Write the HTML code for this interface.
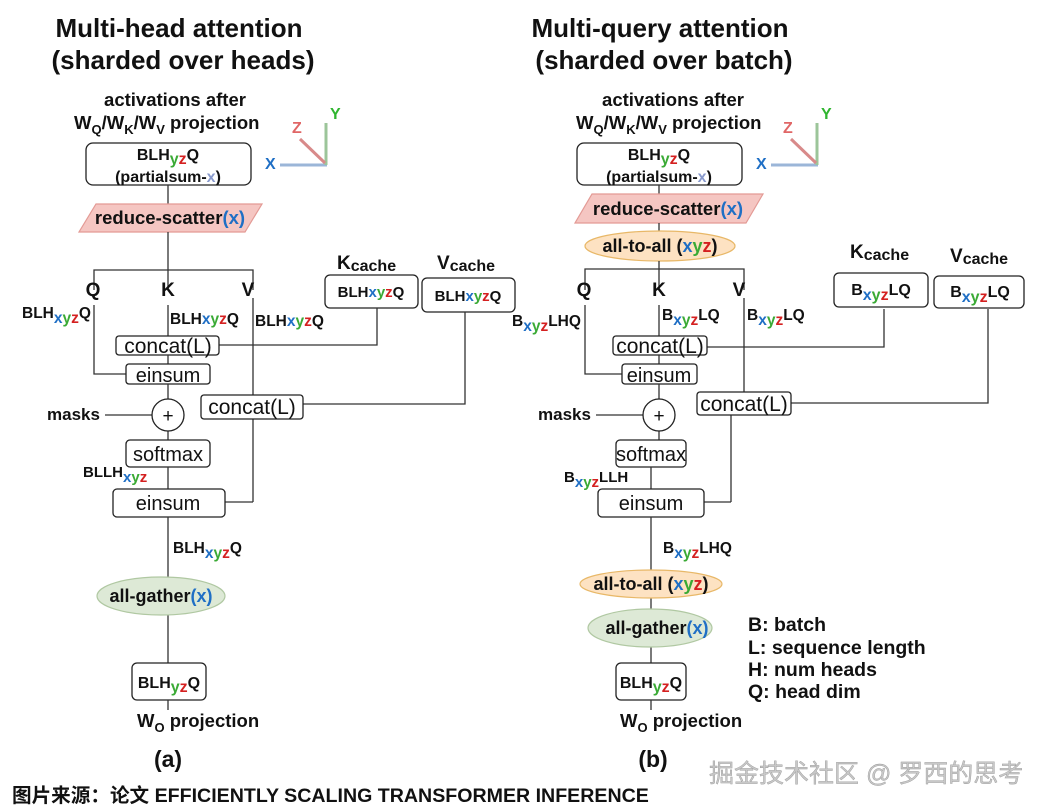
<!DOCTYPE html>
<html><head><meta charset="utf-8"><style>
html,body{margin:0;padding:0;background:#fff;}
svg{display:block;}
text{font-family:"Liberation Sans","Noto Sans CJK SC",sans-serif;fill:#111;}
.b{font-weight:bold;}
.x{fill:#1f6fc5}.y{fill:#3aaa35}.z{fill:#d42020}
.ln{stroke:#333;stroke-width:1.3;fill:none}
.bx{stroke:#222;stroke-width:1.3;fill:#fff}
</style></head><body>
<svg width="1053" height="811" viewBox="0 0 1053 811" xmlns="http://www.w3.org/2000/svg">
<text x="179" y="37" class="b" font-size="26" text-anchor="middle">Multi-head attention</text>
<text x="183" y="69" class="b" font-size="26" text-anchor="middle">(sharded over heads)</text>
<text x="660" y="37" class="b" font-size="26" text-anchor="middle">Multi-query attention</text>
<text x="664" y="69" class="b" font-size="26" text-anchor="middle">(sharded over batch)</text>

<g>
<text x="175" y="106" class="b" font-size="18.5" text-anchor="middle">activations after</text>
<text x="74" y="129" class="b" font-size="18.5">W<tspan font-size="13" dy="5">Q</tspan><tspan dy="-5">/W</tspan><tspan font-size="13" dy="5">K</tspan><tspan dy="-5">/W</tspan><tspan font-size="13" dy="5">V</tspan><tspan dy="-5"> projection</tspan></text>
<rect class="bx" x="86" y="143" width="165" height="42" rx="7"/>
<text x="168" y="160" class="b" font-size="16" text-anchor="middle">BLH<tspan class="y" dy="4">y</tspan><tspan class="z">z</tspan><tspan dy="-4">Q</tspan></text>
<text x="168" y="182" class="b" font-size="16" text-anchor="middle">(partialsum-<tspan fill="#8899cc">x</tspan>)</text>
<line x1="280" y1="165" x2="327" y2="165" stroke="#9bb6d8" stroke-width="3"/>
<line x1="326" y1="123" x2="326" y2="165" stroke="#9cc59a" stroke-width="3"/>
<line x1="300" y1="139" x2="325" y2="163" stroke="#d88a8a" stroke-width="3"/>
<text x="265" y="169" class="b x" font-size="16">X</text>
<text x="292" y="133" class="b" font-size="16" style="fill:#e06666">Z</text>
<text x="330" y="119" class="b" font-size="16" style="fill:#2fb52f">Y</text>
<line class="ln" x1="168" y1="185" x2="168" y2="204"/>
<polygon points="96,204 262,204 245,232 79,232" fill="#f5c6c2" stroke="#e39a95" stroke-width="1.2"/>
<text x="170" y="224" class="b" font-size="18.5" text-anchor="middle">reduce-scatter<tspan class="x">(x)</tspan></text>
<line class="ln" x1="168" y1="232" x2="168" y2="290"/>
<polyline class="ln" points="94,290 94,270 253,270 253,290"/>
<text x="93" y="296" class="b" font-size="19" text-anchor="middle">Q</text>
<text x="168" y="296" class="b" font-size="19" text-anchor="middle">K</text>
<text x="248" y="296" class="b" font-size="19" text-anchor="middle">V</text>
<text x="22" y="318" class="b" font-size="15.5">BLH<tspan class="x" dy="5">x</tspan><tspan class="y">y</tspan><tspan class="z">z</tspan><tspan dy="-5">Q</tspan></text>
<text x="170" y="324" class="b" font-size="15.5">BLH<tspan class="x">x</tspan><tspan class="y">y</tspan><tspan class="z">z</tspan>Q</text>
<text x="255" y="326" class="b" font-size="15.5">BLH<tspan class="x">x</tspan><tspan class="y">y</tspan><tspan class="z">z</tspan>Q</text>
<polyline class="ln" points="94,305 94,374 126,374"/>
<line class="ln" x1="168" y1="305" x2="168" y2="336"/>
<line class="ln" x1="253" y1="298" x2="253" y2="502"/>
<polyline class="ln" points="225,502 253,502"/>
<text x="337" y="269" class="b" font-size="19">K<tspan font-size="16" dy="2">cache</tspan></text>
<rect class="bx" x="325" y="275" width="93" height="33" rx="5"/>
<text x="371" y="297" class="b" font-size="15" text-anchor="middle">BLH<tspan class="x">x</tspan><tspan class="y">y</tspan><tspan class="z">z</tspan>Q</text>
<text x="437" y="269" class="b" font-size="19">V<tspan font-size="16" dy="2">cache</tspan></text>
<rect class="bx" x="422" y="278" width="93" height="34" rx="5"/>
<text x="468" y="301" class="b" font-size="15" text-anchor="middle">BLH<tspan class="x">x</tspan><tspan class="y">y</tspan><tspan class="z">z</tspan>Q</text>
<polyline class="ln" points="219,345 377,345 377,308"/>
<polyline class="ln" points="303,404 465,404 465,312"/>
<rect class="bx" x="116" y="336" width="103" height="19" rx="3"/>
<text x="168" y="353" font-size="21" text-anchor="middle">concat(L)</text>
<line class="ln" x1="168" y1="355" x2="168" y2="364"/>
<rect class="bx" x="126" y="364" width="84" height="20" rx="3"/>
<text x="168" y="382" font-size="20" text-anchor="middle">einsum</text>
<line class="ln" x1="168" y1="384" x2="168" y2="440"/>
<rect class="bx" x="201" y="395" width="102" height="24" rx="3"/>
<text x="252" y="414" font-size="21" text-anchor="middle">concat(L)</text>
<line class="ln" x1="105" y1="415" x2="152" y2="415"/>
<circle cx="168" cy="415" r="16" class="bx"/>
<text x="168" y="422" font-size="19" text-anchor="middle">+</text>
<text x="47" y="420" class="b" font-size="17">masks</text>
<rect class="bx" x="126" y="440" width="84" height="27" rx="4"/>
<text x="168" y="461" font-size="20" text-anchor="middle">softmax</text>
<line class="ln" x1="168" y1="467" x2="168" y2="489"/>
<text x="83" y="477" class="b" font-size="15">BLLH<tspan class="x" dy="5">x</tspan><tspan class="y">y</tspan><tspan class="z">z</tspan></text>
<rect class="bx" x="113" y="489" width="112" height="28" rx="4"/>
<text x="168" y="510" font-size="20" text-anchor="middle">einsum</text>
<line class="ln" x1="168" y1="517" x2="168" y2="663"/>
<text x="173" y="553" class="b" font-size="15.5">BLH<tspan class="x" dy="5">x</tspan><tspan class="y">y</tspan><tspan class="z">z</tspan><tspan dy="-5">Q</tspan></text>
<ellipse cx="161" cy="596" rx="64" ry="19" fill="#dde9d6" stroke="#b0c8a2" stroke-width="1.2"/>
<text x="161" y="602" class="b" font-size="18" text-anchor="middle">all-gather<tspan class="x">(x)</tspan></text>
<rect class="bx" x="132" y="663" width="74" height="37" rx="5"/>
<text x="169" y="688" class="b" font-size="16" text-anchor="middle">BLH<tspan class="y" dy="4">y</tspan><tspan class="z">z</tspan><tspan dy="-4">Q</tspan></text>
<line class="ln" x1="168" y1="700" x2="168" y2="710"/>
<text x="137" y="727" class="b" font-size="18.5">W<tspan font-size="13" dy="5">O</tspan><tspan dy="-5"> projection</tspan></text>
<text x="168" y="767" class="b" font-size="23" text-anchor="middle">(a)</text>
</g>

<g>
<text x="673" y="106" class="b" font-size="18.5" text-anchor="middle">activations after</text>
<text x="576" y="129" class="b" font-size="18.5">W<tspan font-size="13" dy="5">Q</tspan><tspan dy="-5">/W</tspan><tspan font-size="13" dy="5">K</tspan><tspan dy="-5">/W</tspan><tspan font-size="13" dy="5">V</tspan><tspan dy="-5"> projection</tspan></text>
<rect class="bx" x="577" y="143" width="165" height="42" rx="7"/>
<text x="659" y="160" class="b" font-size="16" text-anchor="middle">BLH<tspan class="y" dy="4">y</tspan><tspan class="z">z</tspan><tspan dy="-4">Q</tspan></text>
<text x="659" y="182" class="b" font-size="16" text-anchor="middle">(partialsum-<tspan fill="#8899cc">x</tspan>)</text>
<line x1="771" y1="165" x2="818" y2="165" stroke="#9bb6d8" stroke-width="3"/>
<line x1="817" y1="123" x2="817" y2="165" stroke="#9cc59a" stroke-width="3"/>
<line x1="791" y1="139" x2="816" y2="163" stroke="#d88a8a" stroke-width="3"/>
<text x="756" y="169" class="b x" font-size="16">X</text>
<text x="783" y="133" class="b" font-size="16" style="fill:#e06666">Z</text>
<text x="821" y="119" class="b" font-size="16" style="fill:#2fb52f">Y</text>
<line class="ln" x1="659" y1="185" x2="659" y2="194"/>
<polygon points="592,194 763,194 746,223 575,223" fill="#f5c6c2" stroke="#e39a95" stroke-width="1.2"/>
<text x="668" y="215" class="b" font-size="18.5" text-anchor="middle">reduce-scatter<tspan class="x">(x)</tspan></text>
<line class="ln" x1="659" y1="223" x2="659" y2="231"/>
<ellipse cx="660" cy="246" rx="75" ry="15" fill="#fde2c2" stroke="#e8b868" stroke-width="1.2"/>
<text x="660" y="252" class="b" font-size="18" text-anchor="middle">all-to-all (<tspan class="x">x</tspan><tspan class="y">y</tspan><tspan class="z">z</tspan>)</text>
<line class="ln" x1="659" y1="261" x2="659" y2="290"/>
<polyline class="ln" points="585,290 585,269 744,269 744,290"/>
<text x="584" y="296" class="b" font-size="19" text-anchor="middle">Q</text>
<text x="659" y="296" class="b" font-size="19" text-anchor="middle">K</text>
<text x="739" y="296" class="b" font-size="19" text-anchor="middle">V</text>
<text x="512" y="326" class="b" font-size="15.5">B<tspan class="x" dy="5">x</tspan><tspan class="y">y</tspan><tspan class="z">z</tspan><tspan dy="-5">LHQ</tspan></text>
<text x="662" y="320" class="b" font-size="15.5">B<tspan class="x" dy="5">x</tspan><tspan class="y">y</tspan><tspan class="z">z</tspan><tspan dy="-5">LQ</tspan></text>
<text x="747" y="320" class="b" font-size="15.5">B<tspan class="x" dy="5">x</tspan><tspan class="y">y</tspan><tspan class="z">z</tspan><tspan dy="-5">LQ</tspan></text>
<polyline class="ln" points="585,305 585,374 622,374"/>
<line class="ln" x1="659" y1="305" x2="659" y2="336"/>
<line class="ln" x1="744" y1="298" x2="744" y2="392"/>
<line class="ln" x1="731" y1="415" x2="731" y2="502"/>
<polyline class="ln" points="704,502 731,502"/>
<text x="850" y="258" class="b" font-size="19">K<tspan font-size="16" dy="2">cache</tspan></text>
<rect class="bx" x="834" y="273" width="94" height="34" rx="5"/>
<text x="881" y="295" class="b" font-size="16" text-anchor="middle">B<tspan class="x" dy="5">x</tspan><tspan class="y">y</tspan><tspan class="z">z</tspan><tspan dy="-5">LQ</tspan></text>
<text x="950" y="262" class="b" font-size="19">V<tspan font-size="16" dy="2">cache</tspan></text>
<rect class="bx" x="934" y="276" width="90" height="32" rx="5"/>
<text x="980" y="297" class="b" font-size="16" text-anchor="middle">B<tspan class="x" dy="5">x</tspan><tspan class="y">y</tspan><tspan class="z">z</tspan><tspan dy="-5">LQ</tspan></text>
<polyline class="ln" points="707,347 884,347 884,309"/>
<polyline class="ln" points="791,403 988,403 988,309"/>
<rect class="bx" x="613" y="336" width="94" height="19" rx="3"/>
<text x="660" y="353" font-size="21" text-anchor="middle">concat(L)</text>
<line class="ln" x1="659" y1="355" x2="659" y2="364"/>
<rect class="bx" x="622" y="364" width="75" height="20" rx="3"/>
<text x="659" y="382" font-size="20" text-anchor="middle">einsum</text>
<line class="ln" x1="659" y1="384" x2="659" y2="440"/>
<rect class="bx" x="697" y="392" width="94" height="23" rx="3"/>
<text x="744" y="411" font-size="21" text-anchor="middle">concat(L)</text>
<line class="ln" x1="596" y1="415" x2="643" y2="415"/>
<circle cx="659" cy="415" r="16" class="bx"/>
<text x="659" y="422" font-size="19" text-anchor="middle">+</text>
<text x="538" y="420" class="b" font-size="17">masks</text>
<rect class="bx" x="616" y="440" width="70" height="27" rx="4"/>
<text x="651" y="461" font-size="20" text-anchor="middle">softmax</text>
<line class="ln" x1="651" y1="467" x2="651" y2="489"/>
<text x="564" y="482" class="b" font-size="15">B<tspan class="x" dy="5">x</tspan><tspan class="y">y</tspan><tspan class="z">z</tspan><tspan dy="-5">LLH</tspan></text>
<rect class="bx" x="598" y="489" width="106" height="28" rx="4"/>
<text x="651" y="510" font-size="20" text-anchor="middle">einsum</text>
<line class="ln" x1="651" y1="517" x2="651" y2="663"/>
<text x="663" y="553" class="b" font-size="15.5">B<tspan class="x" dy="5">x</tspan><tspan class="y">y</tspan><tspan class="z">z</tspan><tspan dy="-5">LHQ</tspan></text>
<ellipse cx="651" cy="584" rx="71" ry="14" fill="#fde2c2" stroke="#e8b868" stroke-width="1.2"/>
<text x="651" y="590" class="b" font-size="18" text-anchor="middle">all-to-all (<tspan class="x">x</tspan><tspan class="y">y</tspan><tspan class="z">z</tspan>)</text>
<ellipse cx="650" cy="628" rx="62" ry="19" fill="#dde9d6" stroke="#b0c8a2" stroke-width="1.2"/>
<text x="657" y="634" class="b" font-size="18" text-anchor="middle">all-gather<tspan class="x">(x)</tspan></text>
<rect class="bx" x="616" y="663" width="70" height="37" rx="5"/>
<text x="651" y="688" class="b" font-size="16" text-anchor="middle">BLH<tspan class="y" dy="4">y</tspan><tspan class="z">z</tspan><tspan dy="-4">Q</tspan></text>
<line class="ln" x1="651" y1="700" x2="651" y2="710"/>
<text x="620" y="727" class="b" font-size="18.5">W<tspan font-size="13" dy="5">O</tspan><tspan dy="-5"> projection</tspan></text>
<text x="653" y="767" class="b" font-size="23" text-anchor="middle">(b)</text>
<text x="748" y="631" class="b" font-size="19.5">B: batch</text>
<text x="748" y="654" class="b" font-size="19.5">L: sequence length</text>
<text x="748" y="676" class="b" font-size="19.5">H: num heads</text>
<text x="748" y="698" class="b" font-size="19.5">Q: head dim</text>
</g>

<text x="12" y="802" class="b" font-size="19.6">图片来源：论文 EFFICIENTLY SCALING TRANSFORMER INFERENCE</text>
<text x="709" y="782" font-size="25" style="fill:#c8c8c8;stroke:#999;stroke-width:0.4">掘金技术社区 @ 罗西的思考</text>
</svg>
</body></html>
